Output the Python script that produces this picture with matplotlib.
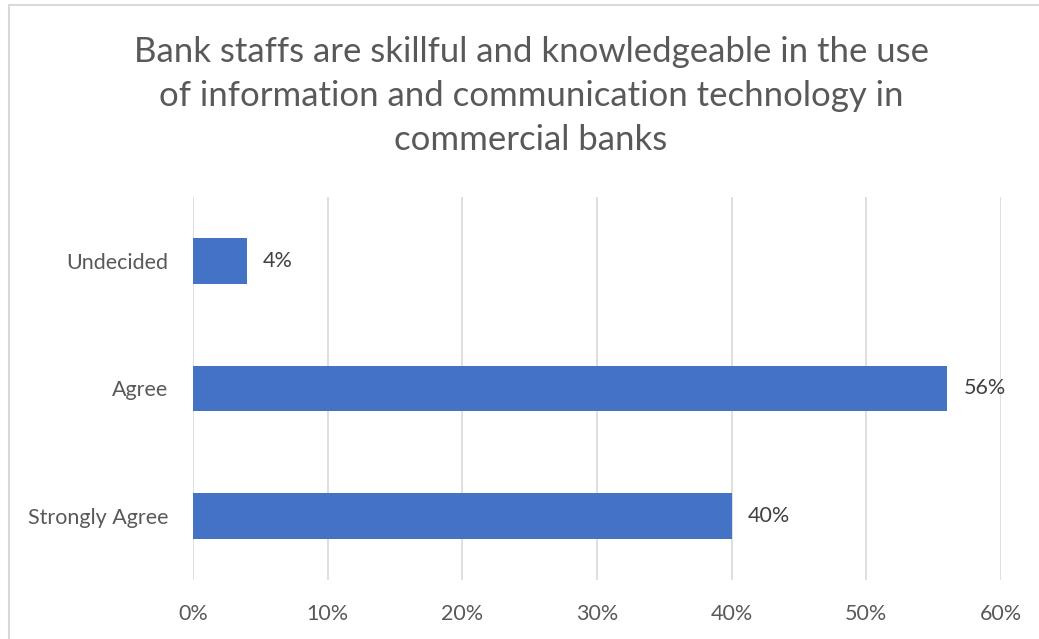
import matplotlib.pyplot as plt
from matplotlib.patches import Rectangle
from matplotlib.ticker import PercentFormatter

categories = ["Strongly Agree", "Agree", "Undecided"]
shares = [40, 56, 4]
ticks = [0, 10, 20, 30, 40, 50, 60]
title = ("Bank staffs are skillful and knowledgeable in the use\n"
         "of information and communication technology in\n"
         "commercial banks")

plt.rcParams["font.family"] = ["Lato", "DejaVu Sans"]

fig = plt.figure(figsize=(10.39, 6.39), dpi=100)
fig.patches.append(Rectangle((9 / 1039, -0.05), 1.1, 1 - 5 / 639 + 0.05,
                             transform=fig.transFigure, fill=False,
                             edgecolor="#D9D9D9", linewidth=1.5))
ax = fig.add_axes([193 / 1039, 1 - 580 / 639, 808 / 1039, 383 / 639])

pos = range(len(categories))
ax.barh(pos, shares, height=0.36, color="#4472C4", zorder=2)
for y, v in zip(pos, shares):
    ax.text(v + 1.2, y, f"{v}%", va="center", ha="left",
            fontsize=15.5, color="#404040")

ax.set_xlim(0, 60)
ax.set_ylim(-0.5, 2.5)
ax.set_xticks(ticks)
ax.xaxis.set_major_formatter(PercentFormatter(decimals=0))
ax.set_yticks(list(pos))
ax.set_yticklabels(categories)
ax.tick_params(length=0, labelsize=15.5, labelcolor="#595959")
ax.tick_params(axis="x", pad=17)
ax.tick_params(axis="y", pad=18)
ax.grid(axis="x", color="#D9D9D9", linewidth=1.2, zorder=0)
for s in ax.spines.values():
    s.set_visible(False)

fig.text(531 / 1039, 1 - 96 / 639, title, ha="center", va="center",
         fontsize=25, color="#595959", linespacing=1.45)

fig.savefig("out.png", dpi=100)
